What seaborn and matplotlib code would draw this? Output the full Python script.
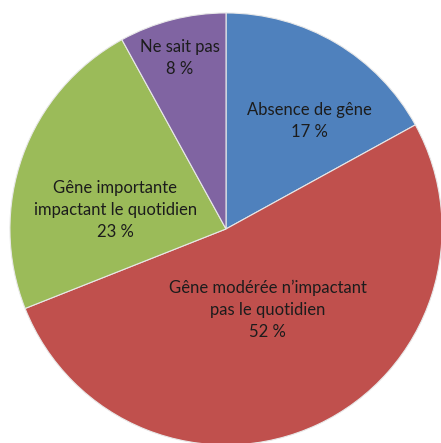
import numpy as np
import seaborn as sns
import matplotlib.pyplot as plt

labels = ['Absence de gêne', 'Gêne modérée n\u2019impactant\npas le quotidien',
          'Gêne importante\nimpactant le quotidien', 'Ne sait pas']
values = [17, 52, 23, 8]
colors = ['#4F81BD', '#C0504D', '#9BBB59', '#8064A2']

sns.set_theme(style='white')
plt.rcParams['font.family'] = ['Lato', 'DejaVu Sans']

fig = plt.figure(figsize=(4.41, 4.43), dpi=100)
ax = fig.add_axes([0, 0, 1, 1])
wedges, _ = ax.pie(values, colors=sns.color_palette(colors), startangle=90,
                   counterclock=False,
                   wedgeprops={'edgecolor': '#e8e8e8', 'linewidth': 0.8})

# label placement per slice: (angle shift in degrees, distance from centre)
place = [(-7, 0.63), (2, 0.42), (10, 0.52), (0.7, 0.82)]
for w, lab, v, (da, r) in zip(wedges, labels, values, place):
    ang = np.deg2rad((w.theta1 + w.theta2) / 2 + da)
    ax.text(r * np.cos(ang), r * np.sin(ang), f'{lab}\n{v} %',
            ha='center', va='center', fontsize=12, color='#1c1c1c',
            linespacing=1.45)

ax.set_xlim(-1.046, 0.995)
ax.set_ylim(-0.991, 1.060)
ax.set_aspect('auto')
ax.axis('off')
fig.savefig('out.png', dpi=100)
